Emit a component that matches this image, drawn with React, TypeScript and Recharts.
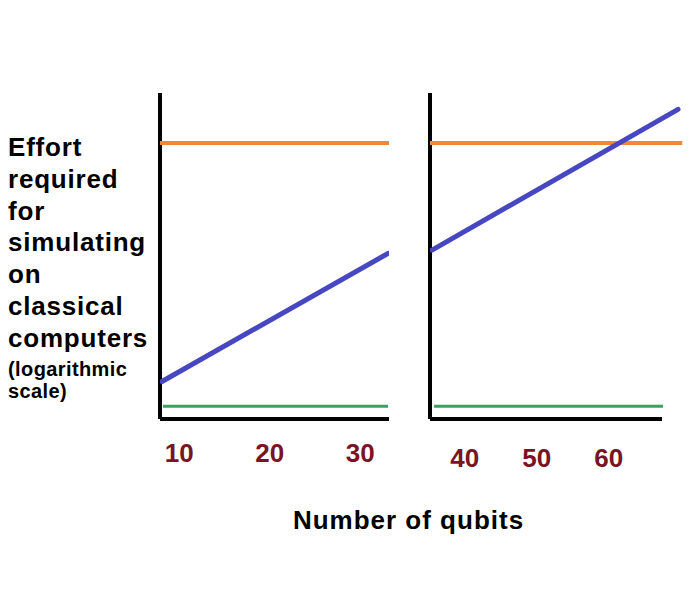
import React from 'react';
import { LineChart, Line, XAxis, YAxis, ReferenceLine, Customized } from 'recharts';

// ---- data ----
const leftTicks = [10, 20, 30];
const rightTicks = [40, 50, 60];
const leftDomain: [number, number] = [7.87, 33.17];
const rightDomain: [number, number] = [35.18, 70.25];
const yDomain: [number, number] = [0, 100];
const rightAxisEnd = 67.4;

const leftOrange = [{ q: 7.87, v: 84.7 }, { q: 33.17, v: 84.7 }];
const leftBlue = [{ q: 8.09, v: 11.5 }, { q: 33.06, v: 50.8 }];
const leftGreen = [{ q: 8.2, v: 3.9 }, { q: 33.06, v: 3.9 }];

const rightOrange = [{ q: 35.18, v: 84.7 }, { q: 70.25, v: 84.7 }];
const rightBlue = [{ q: 35.46, v: 51.8 }, { q: 69.63, v: 95.0 }];
const rightGreen = [{ q: 35.74, v: 3.9 }, { q: 67.54, v: 3.9 }];

const yLabelLines = ['Effort', 'required', 'for', 'simulating', 'on', 'classical', 'computers'];
const yLabelNote = ['(logarithmic', 'scale)'];
const xLabel = 'Number of qubits';

// ---- styles ----
const ORANGE = '#F0883A';
const BLUE = '#4747C2';
const GREEN = '#3AA25A';
const TICK = '#7A1424';
const FONT = '"Liberation Sans", Arial, sans-serif';

const makeTick = (baseline: number) => (props: any) => {
  const { x, payload } = props;
  return (
    <text x={x} y={baseline} textAnchor="middle" fill={TICK} fontFamily={FONT} fontWeight="bold" fontSize={26}>
      {payload.value}
    </text>
  );
};

const Labels = () => (
  <g fontFamily={FONT} fontWeight="bold" fill="#000">
    {yLabelLines.map((t, i) => (
      <text key={t} x={8} y={156 + i * 31.8} fontSize={26} letterSpacing={0.8}>
        {t}
      </text>
    ))}
    {yLabelNote.map((t, i) => (
      <text key={t} x={8} y={376 + i * 22.3} fontSize={20} letterSpacing={0.4}>
        {t}
      </text>
    ))}
    <text x={408.5} y={529} fontSize={26} letterSpacing={1} textAnchor="middle">
      {xLabel}
    </text>
  </g>
);

const axisStyle = { stroke: '#000', strokeWidth: 4 };

export default function App() {
  return (
    <div style={{ position: 'absolute', left: 0, top: 0, width: 700, height: 605, background: '#fff' }}>
      <div style={{ position: 'absolute', left: 0, top: 0 }}>
        <LineChart width={700} height={605} margin={{ top: 93, right: 311, bottom: 146, left: 160 }}>
          <XAxis
            type="number"
            dataKey="q"
            domain={leftDomain}
            allowDataOverflow
            ticks={leftTicks}
            height={40}
            axisLine={axisStyle}
            tickLine={false}
            tick={makeTick(462)}
            interval={0}
          />
          <YAxis type="number" domain={yDomain} allowDataOverflow hide />
          <ReferenceLine x={leftDomain[0]} stroke="#000" strokeWidth={4} ifOverflow="visible" />
          <Line data={leftOrange} dataKey="v" stroke={ORANGE} strokeWidth={4} dot={false} isAnimationActive={false} />
          <Line data={leftGreen} dataKey="v" stroke={GREEN} strokeWidth={3} dot={false} isAnimationActive={false} />
          <Line data={leftBlue} dataKey="v" stroke={BLUE} strokeWidth={5} strokeLinecap="round" dot={false} isAnimationActive={false} />
          <Customized component={Labels} />
        </LineChart>
      </div>
      <div style={{ position: 'absolute', left: 400, top: 0 }}>
        <LineChart width={300} height={605} margin={{ top: 93, right: 17.5, bottom: 146, left: 30 }}>
          <XAxis
            type="number"
            dataKey="q"
            domain={rightDomain}
            allowDataOverflow
            ticks={rightTicks}
            height={40}
            axisLine={false}
            tickLine={false}
            tick={makeTick(467)}
            interval={0}
          />
          <YAxis type="number" domain={yDomain} allowDataOverflow hide />
          <ReferenceLine x={rightDomain[0]} stroke="#000" strokeWidth={4} ifOverflow="visible" />
          <ReferenceLine
            segment={[{ x: rightDomain[0], y: 0 }, { x: rightAxisEnd, y: 0 }]}
            stroke="#000"
            strokeWidth={4}
            ifOverflow="visible"
          />
          <Line data={rightOrange} dataKey="v" stroke={ORANGE} strokeWidth={4} dot={false} isAnimationActive={false} />
          <Line data={rightGreen} dataKey="v" stroke={GREEN} strokeWidth={3} dot={false} isAnimationActive={false} />
          <Line data={rightBlue} dataKey="v" stroke={BLUE} strokeWidth={5} strokeLinecap="round" dot={false} isAnimationActive={false} />
        </LineChart>
      </div>
    </div>
  );
}
